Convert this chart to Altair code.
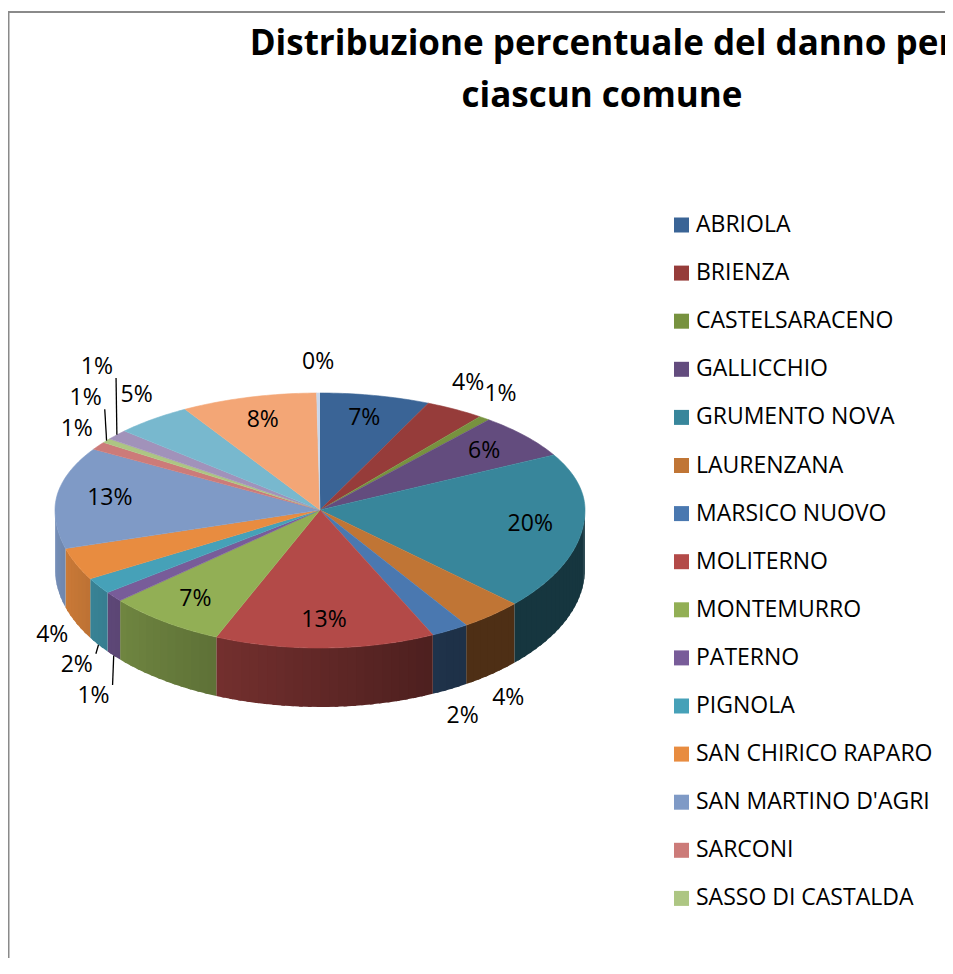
import math
import numpy as np
import pandas as pd
import altair as alt

# ---------------- data ----------------
comuni = ["ABRIOLA", "BRIENZA", "CASTELSARACENO", "GALLICCHIO", "GRUMENTO NOVA",
          "LAURENZANA", "MARSICO NUOVO", "MOLITERNO", "MONTEMURRO", "PATERNO",
          "PIGNOLA", "SAN CHIRICO RAPARO", "SAN MARTINO D'AGRI", "SARCONI",
          "SASSO DI CASTALDA", "SPINOSO", "TRAMUTOLA", "VIGGIANO", "ALTRI"]
quote = [6.7, 3.6, 0.7, 6.2, 19.7, 3.8, 2.3, 13.4, 7.2, 1.2,
         1.9, 3.8, 13.2, 1.1, 0.6, 1.4, 4.7, 8.3, 0.2]
colori = ["#3A6496", "#963C3A", "#77923F", "#634C7E", "#38869B",
          "#C07535", "#4A78B0", "#B34A48", "#92AF55", "#785C99",
          "#46A1B8", "#E88C40", "#7F9AC6", "#CC7B79", "#ADC683",
          "#A192BA", "#78B8CE", "#F3A676", "#C9D6EA"]
legenda = comuni[:15]
titolo = ["Distribuzione percentuale del danno per", "ciascun comune"]

# ---------------- layout ----------------
W, H = 937, 950
CX, CY, RX, RYB, RYF, DEPTH = 312, 502, 265, 117, 138, 59
FONT = "Open Sans"
LAB_SIZE = 23

tot = sum(quote)
ends = np.cumsum(quote)
starts = ends - np.array(quote)


def ell(theta_deg):
    t = math.radians(theta_deg)
    s, c = math.sin(t), math.cos(t)
    ry = RYB if c >= 0 else RYF
    return CX + RX * s, CY - ry * c


def bfac(theta):
    if theta <= 150:
        return 0.41
    return min(0.95, 0.41 + 0.54 * (theta - 150) / 120)


def darken(hexcol, f):
    r, g, b = (int(hexcol[i:i + 2], 16) for i in (1, 3, 5))
    return "#%02x%02x%02x" % (int(r * f), int(g * f), int(b * f))


# top surfaces
top_rows = []
for i, name in enumerate(comuni):
    a0, a1 = 360 * starts[i] / tot, 360 * ends[i] / tot
    n = max(2, int(math.ceil(a1 - a0)) + 1)
    top_rows.append({"comune": name, "k": 0, "x": CX, "y": CY})
    for j, a in enumerate(np.linspace(a0, a1, n)):
        x, y = ell(a)
        top_rows.append({"comune": name, "k": j + 1, "x": x, "y": y})
top_df = pd.DataFrame(top_rows)

# visible outer side (front half), drawn as slightly overlapping strips
side_rows = []
STEP = 2.0
for i, name in enumerate(comuni):
    a0, a1 = 360 * starts[i] / tot, 360 * ends[i] / tot
    lo, hi = max(a0, 90.0), min(a1, 270.0)
    if hi <= lo:
        continue
    nseg = max(1, int(math.ceil((hi - lo) / STEP)))
    bs = np.linspace(lo, hi, nseg + 1)
    for q in range(nseg):
        b0 = bs[q]
        b1 = min(bs[q + 1] + 0.8, 270.0) if q < nseg - 1 else bs[q + 1]
        col = darken(colori[i], bfac((bs[q] + bs[q + 1]) / 2))
        x0, y0 = ell(b0)
        x1, y1 = ell(b1)
        pts = [(x0, y0), (x1, y1), (x1, y1 + DEPTH), (x0, y0 + DEPTH)]
        for k, (x, y) in enumerate(pts):
            side_rows.append({"qid": f"{i:02d}-{q:03d}", "k": k, "x": x, "y": y, "tinta": col})
side_df = pd.DataFrame(side_rows)


# labels (inside for big slices, outside with simple collision avoidance for small ones)
def text_w(t):
    return sum((0.82 if ch == "%" else 0.58) * LAB_SIZE for ch in t)


def free(box, boxes, pad=3):
    for b in boxes:
        if box[0] < b[1] and box[1] > b[0] and box[2] < b[3] + pad and box[3] > b[2] - pad:
            return False
    return True


def mid_angle(i):
    return 360 * (starts[i] + ends[i]) / 2 / tot


order = sorted(range(len(comuni)), key=lambda i: -abs(math.sin(math.radians(mid_angle(i)))))
lab_rows, lead_rows, boxes = [], [], []
for i in order:
    share = quote[i] / tot * 100
    txt = f"{int(math.floor(share + 0.5))}%"
    t = math.radians(mid_angle(i))
    s, c = math.sin(t), math.cos(t)
    if share >= 5.5:
        ry = RYB if c >= 0 else RYF
        lab_rows.append({"x": CX + 0.8 * RX * s, "y": CY - 0.8 * ry * c, "lab": txt})
        continue
    ex, ey = ell(mid_angle(i))
    if c < 0:
        ey += DEPTH
    w, h = text_w(txt), 26
    x0, y0 = ex + 26 * s, ey - 31 * c
    sx = -1 if s < 0 else 1
    sy = -1 if c > 0 else 1
    chosen = None
    for d in range(0, 240, 3):
        cands = [(ex + (26 + d) * s, ey - (31 + d) * c), (x0, y0 + sy * d), (x0 + sx * d, y0)]
        for (lx, ly) in cands:
            box = (lx - w / 2, lx + w / 2, ly - h / 2, ly + h / 2)
            if free(box, boxes):
                chosen = (lx, ly, box, d)
                break
        if chosen:
            break
    lx, ly, box, d = chosen
    boxes.append(box)
    lab_rows.append({"x": lx, "y": ly, "lab": txt})
    if d > 0:
        if box[0] - 3 < ex < box[1] + 3:
            nx, ny = ex, min(max(ey, box[2] - 1), box[3] + 1)
        else:
            nx = min(max(ex, box[0] - 3), box[1] + 3)
            ny = min(max(ey, box[2] + 2), box[3] - 2)
        lead_rows.append({"x": ex, "y": ey, "x2": nx, "y2": ny})
lab_df = pd.DataFrame(lab_rows)
lead_df = pd.DataFrame(lead_rows if lead_rows else [{"x": 0, "y": 0, "x2": 0, "y2": 0}])

# ---------------- chart ----------------
xs = alt.Scale(domain=[0, W], range=[0, W], nice=False, zero=False)
ys = alt.Scale(domain=[0, H], range=[0, H], nice=False, zero=False)

sides = alt.Chart(side_df).mark_line(filled=True, strokeWidth=0).encode(
    x=alt.X("x:Q", scale=xs, axis=None),
    y=alt.Y("y:Q", scale=ys, axis=None),
    order=alt.Order("k:Q"),
    detail="qid:N",
    fill=alt.Fill("tinta:N", scale=None),
)

tops = alt.Chart(top_df).mark_line(filled=True, strokeWidth=0.6, strokeJoin="round").encode(
    x=alt.X("x:Q", scale=xs, axis=None),
    y=alt.Y("y:Q", scale=ys, axis=None),
    order=alt.Order("k:Q"),
    detail="comune:N",
    fill=alt.Fill(
        "comune:N",
        scale=alt.Scale(domain=comuni, range=colori),
        legend=alt.Legend(
            orient="none", legendX=662, legendY=205.5, values=legenda, title=None,
            symbolType="square", symbolSize=225, symbolStrokeWidth=0, symbolOpacity=1,
            labelFont=FONT, labelFontSize=23, labelColor="black", labelOffset=3,
            rowPadding=24.1, labelLimit=400,
        ),
    ),
    stroke=alt.Stroke("comune:N", scale=alt.Scale(domain=comuni, range=colori), legend=None),
)

leaders = alt.Chart(lead_df).mark_rule(color="black", strokeWidth=1.3).encode(
    x=alt.X("x:Q", scale=xs, axis=None),
    y=alt.Y("y:Q", scale=ys, axis=None),
    x2="x2:Q",
    y2="y2:Q",
)

labels = alt.Chart(lab_df).mark_text(
    font=FONT, fontSize=LAB_SIZE, color="black", align="center", baseline="middle"
).encode(
    x=alt.X("x:Q", scale=xs, axis=None),
    y=alt.Y("y:Q", scale=ys, axis=None),
    text="lab:N",
)

title = alt.Chart(pd.DataFrame({"t": [0]})).mark_text(
    font=FONT, fontSize=35, fontWeight="bold", color="black", align="center",
    baseline="alphabetic", lineHeight=52,
).encode(x=alt.value(594), y=alt.value(47), text=alt.value(titolo))

frame_left = alt.Chart(pd.DataFrame({"t": [0]})).mark_rule(color="#8a8a8a", strokeWidth=2).encode(
    x=alt.value(0.5), y=alt.value(4), y2=alt.value(H))
frame_top = alt.Chart(pd.DataFrame({"t": [0]})).mark_rule(color="#8a8a8a", strokeWidth=2).encode(
    x=alt.value(0), x2=alt.value(W), y=alt.value(4))

chart = alt.layer(frame_left, frame_top, sides, tops, leaders, labels, title).resolve_scale(
    fill="independent", stroke="independent"
).properties(width=W, height=H, padding=0, autosize="none", background="white").configure_view(stroke=None)

chart.save("out.html", embed_options={"renderer": "svg", "actions": False})
